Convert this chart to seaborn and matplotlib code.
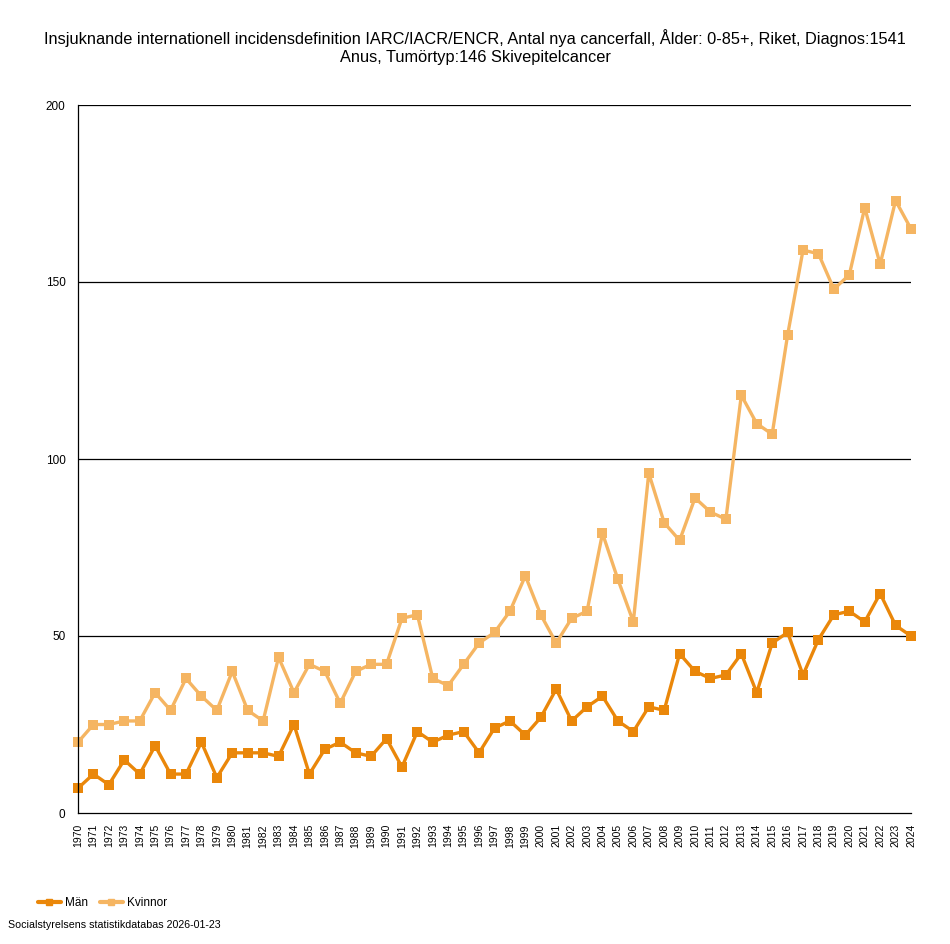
import matplotlib
matplotlib.use("Agg")
import matplotlib.pyplot as plt
import seaborn as sns
import pandas as pd
from matplotlib.lines import Line2D

years = list(range(1970, 2025))
man = [7, 11, 8, 15, 11, 19, 11, 11, 20, 10, 17, 17, 17, 16, 25, 11, 18, 20, 17, 16,
       21, 13, 23, 20, 22, 23, 17, 24, 26, 22, 27, 35, 26, 30, 33, 26, 23, 30, 29, 45,
       40, 38, 39, 45, 34, 48, 51, 39, 49, 56, 57, 54, 62, 53, 50]
kvinnor = [20, 25, 25, 26, 26, 34, 29, 38, 33, 29, 40, 29, 26, 44, 34, 42, 40, 31, 40, 42,
           42, 55, 56, 38, 36, 42, 48, 51, 57, 67, 56, 48, 55, 57, 79, 66, 54, 96, 82, 77,
           89, 85, 83, 118, 110, 107, 135, 159, 158, 148, 152, 171, 155, 173, 165]
series_names = ["Män", "Kvinnor"]
yticks = [0, 50, 100, 150, 200]
title = ("Insjuknande internationell incidensdefinition IARC/IACR/ENCR, Antal nya cancerfall, Ålder: 0-85+, Riket, Diagnos:1541\n"
         "Anus, Tumörtyp:146 Skivepitelcancer")
source = "Socialstyrelsens statistikdatabas 2026-01-23"

df = pd.DataFrame({
    "year": years * 2,
    "value": man + kvinnor,
    "series": [series_names[0]] * len(years) + [series_names[1]] * len(years),
})

sns.set_theme(style="white")
plt.rcParams["font.family"] = ["Liberation Sans", "DejaVu Sans"]
plt.rcParams["text.color"] = "black"
plt.rcParams["xtick.color"] = "black"
plt.rcParams["ytick.color"] = "black"

fig = plt.figure(figsize=(9.5, 9.44), dpi=100)
ax = fig.add_axes([78 / 950, 1 - 813 / 944, (911 - 78) / 950, (813 - 105) / 944])

palette = {"Män": "#EA870A", "Kvinnor": "#F5B562"}
sns.lineplot(data=df, x="year", y="value", hue="series", palette=palette,
             marker="s", markersize=6.5, markeredgewidth=0, linewidth=2.4,
             ax=ax, legend=False, clip_on=False)

ax.set_xlim(1970, 2024)
ax.set_ylim(0, 200)
ax.set_yticks(yticks)
ax.set_yticklabels([str(t) for t in yticks], fontsize=8.5)
ax.set_xticks(years)
ax.set_xticklabels([str(y) for y in years], rotation=90, fontsize=7.5)
ax.tick_params(axis="x", length=7, width=0.9, color="black", pad=1)
ax.tick_params(axis="y", length=8, width=0.9, color="black", pad=1)
ax.set_xlabel("")
ax.set_ylabel("")
for t in yticks[1:]:
    ax.axhline(t, color="black", linewidth=0.9, zorder=0.5)
for s in ["top", "right"]:
    ax.spines[s].set_visible(False)
for s in ["left", "bottom"]:
    ax.spines[s].set_color("black")
    ax.spines[s].set_linewidth(0.9)

fig.text(0.5, 1 - 47 / 944, title, ha="center", va="center", fontsize=11.8, linespacing=1.3)

handles = [Line2D([0], [0], color=palette[n], marker="s", markersize=4.5, linewidth=3) for n in series_names]
fig.legend(handles, series_names, loc="center left", bbox_to_anchor=(33 / 950, 1 - 903 / 944),
           ncol=2, frameon=False, fontsize=8.5, handlelength=1.95, columnspacing=0.95,
           handletextpad=0.4, borderaxespad=0, borderpad=0.4)
fig.text(8 / 950, 1 - 925 / 944, source, ha="left", va="center", fontsize=7.65)

fig.savefig("out.png", dpi=100)
